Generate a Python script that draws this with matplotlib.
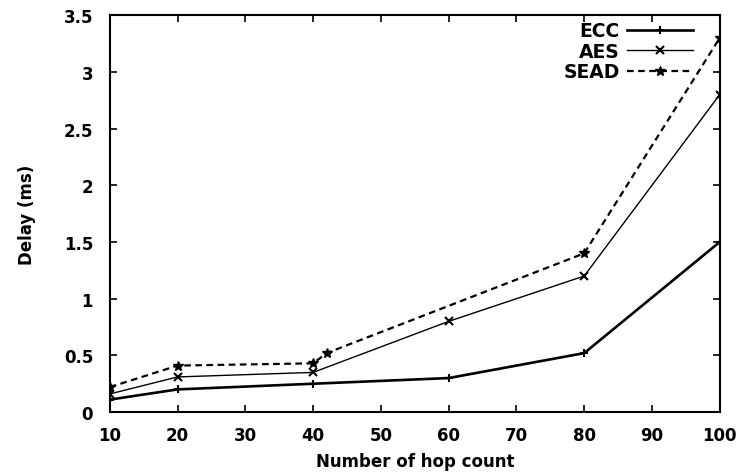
import matplotlib
matplotlib.use("Agg")
import matplotlib.pyplot as plt

# values
hops = [10, 20, 40, 60, 80, 100]
ecc = [0.11, 0.2, 0.25, 0.3, 0.52, 1.5]
aes = [0.16, 0.31, 0.35, 0.8, 1.2, 2.8]
sead_hops = [10, 20, 40, 42, 80, 100]
sead = [0.22, 0.41, 0.43, 0.52, 1.4, 3.3]

xticks = [10, 20, 30, 40, 50, 60, 70, 80, 90, 100]
yticks = [0, 0.5, 1, 1.5, 2, 2.5, 3, 3.5]
ytick_labels = ["0", "0.5", "1", "1.5", "2", "2.5", "3", "3.5"]

plt.rcParams['font.family'] = ['DejaVu Sans']
plt.rcParams['font.weight'] = 'bold'
plt.rcParams['axes.labelweight'] = 'bold'
plt.rcParams['font.size'] = 12

fig = plt.figure(figsize=(7.42, 4.77), dpi=100)
ax = fig.add_axes([0.148, 0.134, 0.822, 0.832])

ax.plot(hops, ecc, color="black", lw=1.9, marker="+", ms=6, mew=1.5, label="ECC")
ax.plot(hops, aes, color="black", lw=1.0, marker="x", ms=6, mew=1.5, label="AES")
ax.plot(sead_hops, sead, color="black", lw=1.6, ls=(0, (3, 2)), marker="*", ms=7,
        label="SEAD")

ax.set_xlim(10, 100)
ax.set_ylim(0, 3.5)
ax.set_xticks(xticks)
ax.set_yticks(yticks)
ax.set_yticklabels(ytick_labels)

ax.tick_params(direction="in", length=5, width=1.2, top=True, right=True)
ax.tick_params(axis="y", pad=12)
ax.tick_params(axis="x", pad=10)
for s in ax.spines.values():
    s.set_linewidth(1.5)

ax.set_xlabel("Number of hop count", labelpad=6)
ax.set_ylabel("Delay (ms)", labelpad=20)

ax.legend(loc="upper right", bbox_to_anchor=(0.956, 0.985), frameon=False,
          markerfirst=False, handlelength=3.5, labelspacing=0.08, borderpad=0,
          borderaxespad=0, handletextpad=0.4, fontsize=13.5)

fig.savefig("out.png", dpi=100)
